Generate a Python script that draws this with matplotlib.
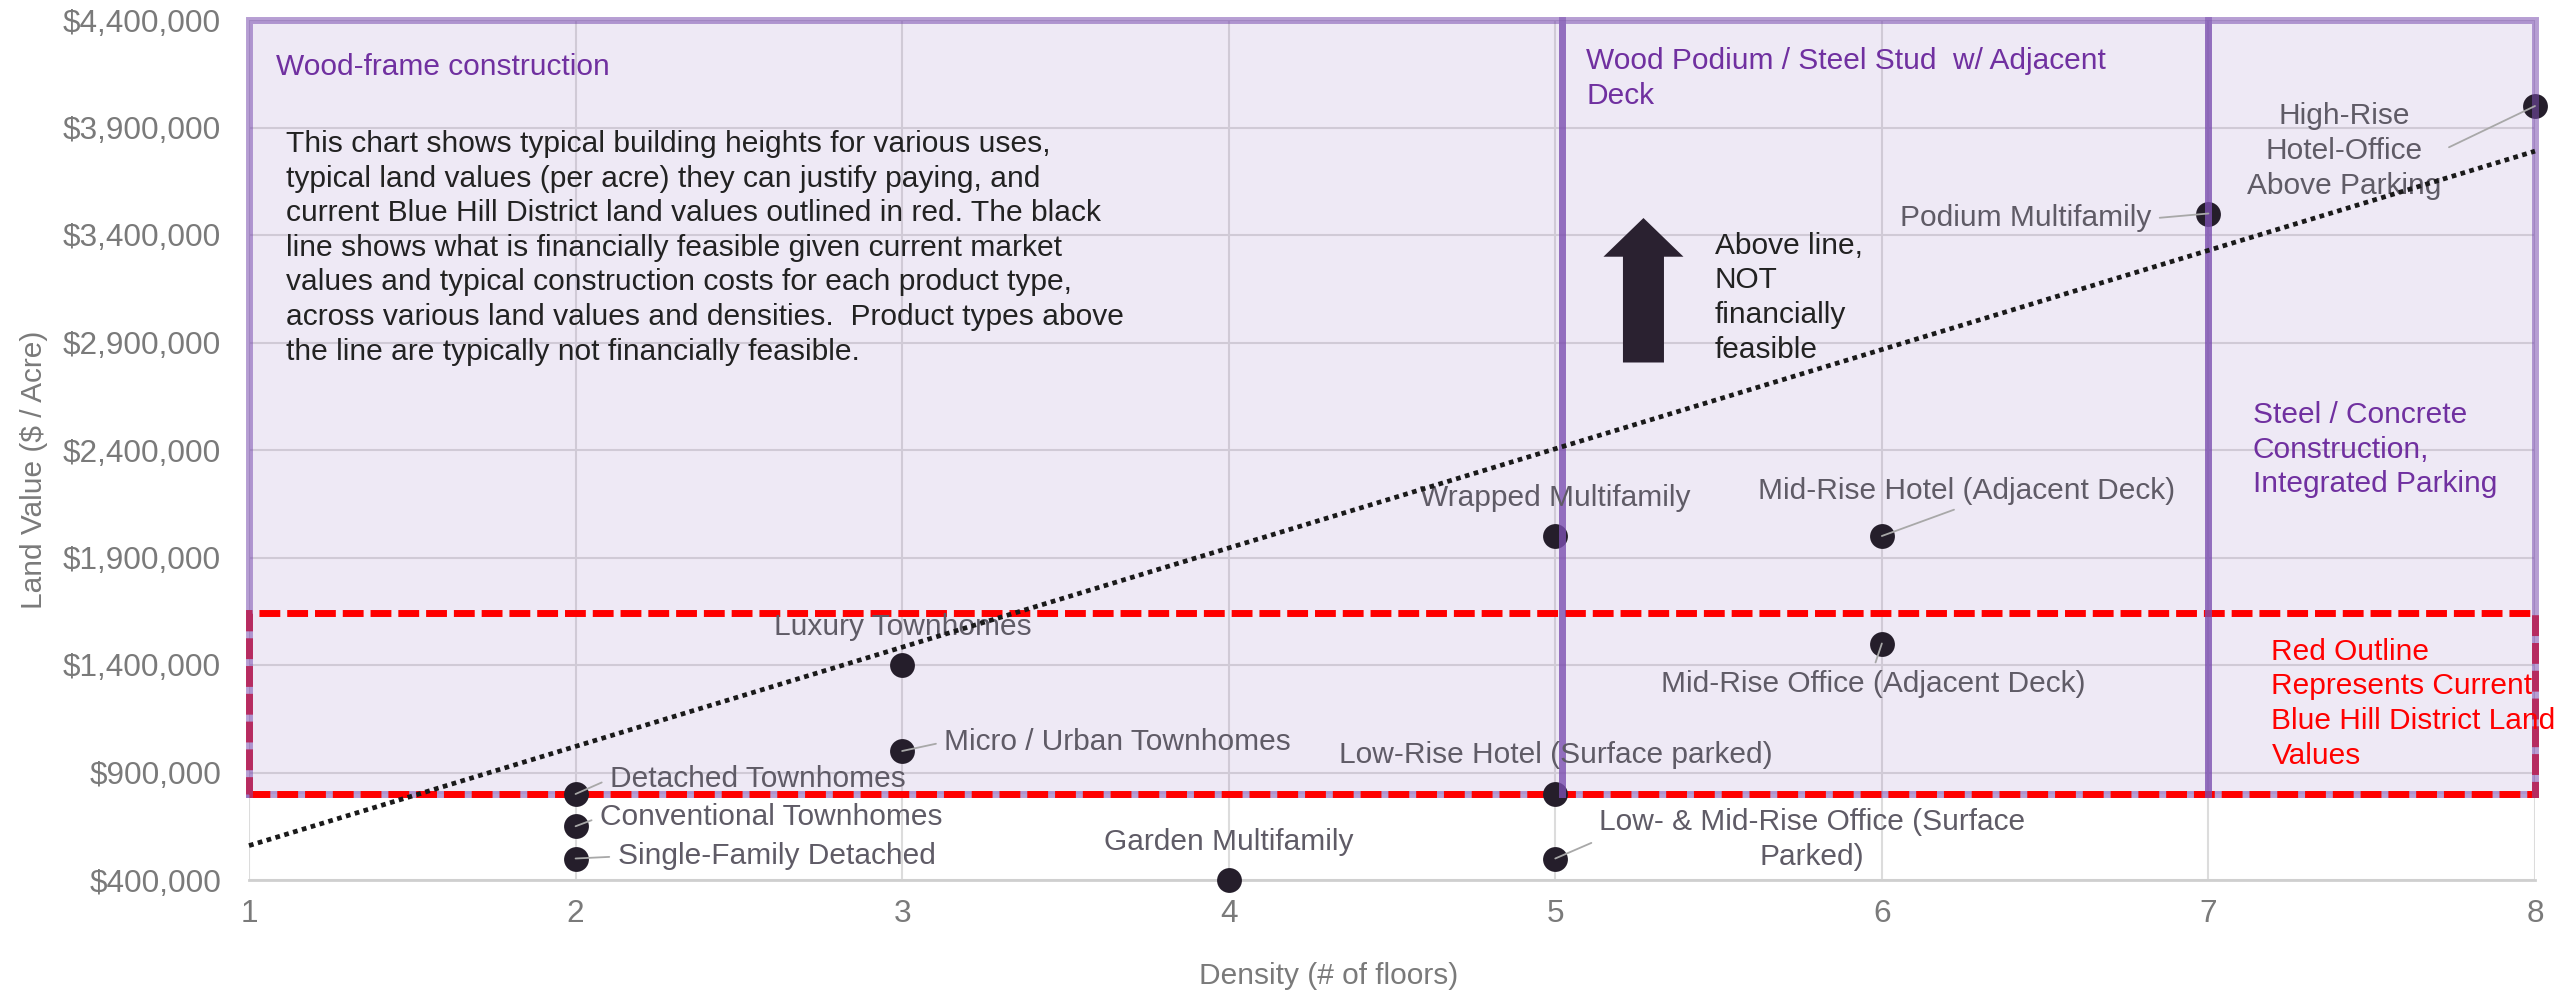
import matplotlib.pyplot as plt
from matplotlib.patches import Rectangle, FancyArrow
from matplotlib.ticker import FuncFormatter

plt.rcParams['font.family'] = ['Liberation Sans', 'DejaVu Sans']

# product types: density (# of floors) and land value ($ / acre)
products = ['Single-Family Detached', 'Conventional Townhomes', 'Detached Townhomes',
            'Luxury Townhomes', 'Micro / Urban Townhomes', 'Garden Multifamily',
            'Low-Rise Hotel (Surface parked)', 'Low- & Mid-Rise Office (Surface\nParked)',
            'Wrapped Multifamily', 'Mid-Rise Hotel (Adjacent Deck)',
            'Mid-Rise Office (Adjacent Deck)', 'Podium Multifamily',
            'High-Rise\nHotel-Office\nAbove Parking']
floors = [2, 2, 2, 3, 3, 4, 5, 5, 5, 6, 6, 7, 8]
land_values = [500000, 650000, 800000, 1400000, 1000000, 400000, 800000, 500000,
               2000000, 2000000, 1500000, 3500000, 4000000]

# financial feasibility line (end points)
feasible_floors = [1, 8]
feasible_values = [560000, 3790000]

# construction type regions
region_names = ['Wood-frame construction',
                'Wood Podium / Steel Stud  w/ Adjacent\nDeck',
                'Steel / Concrete\nConstruction,\nIntegrated Parking']
region_start = [1, 5.02, 7]
region_end = [5.02, 7, 8]
region_bottom = 800000
region_top = 4400000

# current Blue Hill District land values
district_low = 800000
district_high = 1640000
district_floors = [1, 8]

x_ticks = [1, 2, 3, 4, 5, 6, 7, 8]
y_ticks = [400000, 900000, 1400000, 1900000, 2400000, 2900000, 3400000, 3900000, 4400000]

note = ("This chart shows typical building heights for various uses,\n"
        "typical land values (per acre) they can justify paying, and\n"
        "current Blue Hill District land values outlined in red. The black\n"
        "line shows what is financially feasible given current market\n"
        "values and typical construction costs for each product type,\n"
        "across various land values and densities.  Product types above\n"
        "the line are typically not financially feasible.")
red_note = 'Red Outline\nRepresents Current\nBlue Hill District Land\nValues'
arrow_note = 'Above line,\nNOT\nfinancially\nfeasible'

# label offsets in pixels: (dx, dy, ha, leader anchor)
label_layout = [
    (42, 2, 'left', (0, 0.5)),
    (24, 9, 'left', (0, 0.5)),
    (34, 15, 'left', (0, 0.5)),
    (1, 38, 'center', None),
    (42, 9, 'left', (0, 0.5)),
    (0, 38, 'center', None),
    (1, 39, 'center', None),
    (257, 19, 'center', (0, 0.5)),
    (0, 38, 'center', None),
    (85, 45, 'center', (0.5, 0)),
    (-9, -41, 'center', (0.5, 1)),
    (-57, -5, 'right', (1, 0.5)),
    (-191, -45, 'center', (1, 0.5)),
]

FS = 21.5
PURPLE = (0.482, 0.31, 0.69)
LABEL_C = '#5f5b66'
TICK_C = '#7a7a7a'

fig = plt.figure(figsize=(25.69, 9.94), dpi=100)
ax = fig.add_axes([249 / 2569, 114 / 994, 2286 / 2569, 860 / 994])

ax.set_xlim(1, 8)
ax.set_ylim(400000, 4400000)
ax.set_xticks(x_ticks)
ax.set_yticks(y_ticks)
ax.yaxis.set_major_formatter(FuncFormatter(lambda v, p: f'${v:,.0f}'))
ax.tick_params(length=0, labelsize=22.7, labelcolor=TICK_C)
ax.tick_params(axis='y', pad=20)
ax.tick_params(axis='x', pad=14)
ax.set_axisbelow(True)
ax.grid(True, color='#dcdcdc', lw=1.5)
for s in ['top', 'left', 'right']:
    ax.spines[s].set_visible(False)
ax.spines['bottom'].set_color('#cfcfcf')
ax.spines['bottom'].set_linewidth(2)

ax.set_xlabel('Density (# of floors)', fontsize=FS, color=TICK_C)
ax.xaxis.set_label_coords(0.4724, -0.095)
ax.set_ylabel('Land Value ($ / Acre)', fontsize=FS, color=TICK_C)
ax.yaxis.set_label_coords(-0.088, 0.477)

# construction regions: fill, bottom edge under the red outline, other edges on top
for i in range(len(region_names)):
    x0, x1 = region_start[i], region_end[i]
    ax.add_patch(Rectangle((x0, region_bottom), x1 - x0, region_top - region_bottom,
                           facecolor=PURPLE + (0.12,), edgecolor='none', zorder=1))
    ax.plot([x0, x1], [region_bottom, region_bottom], color=PURPLE + (0.55,), lw=5,
            solid_capstyle='projecting', zorder=2, clip_on=False)
    ax.plot([x0, x0, x1, x1], [region_bottom, region_top, region_top, region_bottom],
            color=PURPLE + (0.55,), lw=5, solid_joinstyle='miter',
            solid_capstyle='projecting', zorder=4.5, clip_on=False)

ax.text(1.083, 4182000, region_names[0], fontsize=FS, color='#7030a0', va='center')
ax.text(5.095, 4129000, region_names[1], fontsize=FS, color='#7030a0', va='center',
        linespacing=1.3)
ax.text(7.135, 2401000, region_names[2], fontsize=FS, color='#7030a0', va='center',
        linespacing=1.3)

# district outline
ax.add_patch(Rectangle((district_floors[0], district_low),
                       district_floors[1] - district_floors[0], district_high - district_low,
                       fill=False, edgecolor='#ff0000', lw=5, linestyle=(0, (3, 1)),
                       zorder=3, clip_on=False))
ax.text(7.193, 1220000, red_note, fontsize=FS, color='#ff0000', va='center',
        linespacing=1.3, zorder=5)

ax.text(1.112, 3340000, note, fontsize=21.6, color='#222222', va='center',
        linespacing=1.3, zorder=5)

# arrow
ax.add_patch(FancyArrow(5.27, 2807000, 0, 672000, width=0.1256, head_width=0.245,
                        head_length=180000, length_includes_head=True,
                        color='#2a2130', lw=0, zorder=5))
ax.text(5.488, 3108000, arrow_note, fontsize=FS, color='#222222', va='center',
        linespacing=1.3, zorder=5)

# feasibility line
ax.plot(feasible_floors, feasible_values, color='#1a1a1a', lw=3.4,
        linestyle=(0, (1, 0.95)), dash_capstyle='butt', zorder=6, clip_on=False)

# products
ax.scatter(floors, land_values, s=320, color='#251e2b', linewidths=0, zorder=4,
           clip_on=False)

for name, x, y, (dx, dy, ha, rel) in zip(products, floors, land_values, label_layout):
    kw = {}
    if rel is not None:
        kw['arrowprops'] = dict(arrowstyle='-', color='#a8a8a8', lw=1.3, relpos=rel,
                                shrinkA=4, shrinkB=0)
    ax.annotate(name, (x, y), xytext=(dx, dy), textcoords='offset pixels', ha=ha,
                va='center', multialignment='center', fontsize=FS, color=LABEL_C,
                linespacing=1.3, zorder=5, annotation_clip=False, **kw)

fig.savefig('out.png', dpi=100, facecolor='white')
